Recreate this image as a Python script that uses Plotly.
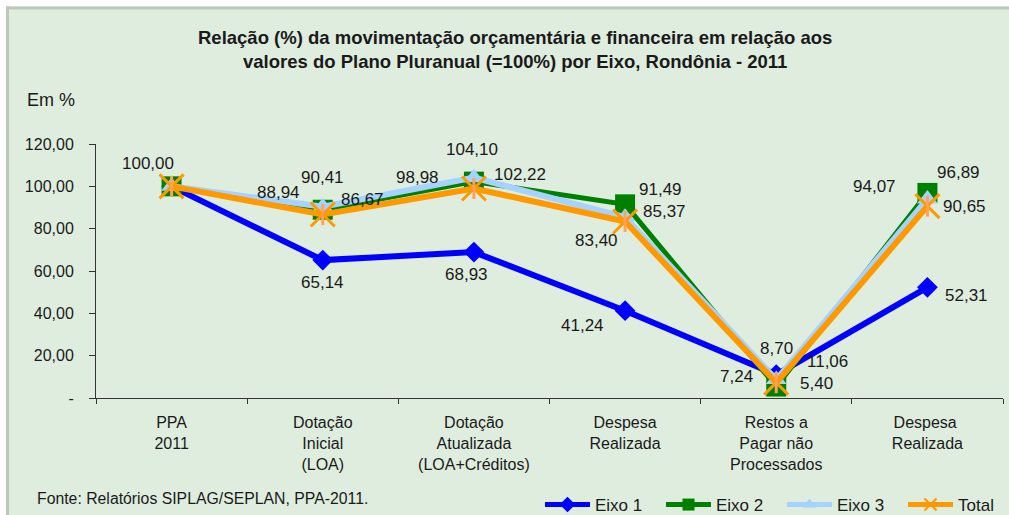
import plotly.graph_objects as go

categories = ["PPA<br>2011", "Dotação<br>Inicial<br>(LOA)", "Dotação<br>Atualizada<br>(LOA+Créditos)",
              "Despesa<br>Realizada", "Restos a<br>Pagar não<br>Processados", "Despesa <br>Realizada"]
eixo1 = [100.00, 65.14, 68.93, 41.24, 11.06, 52.31]
eixo2 = [100.00, 88.94, 102.22, 91.49, 5.40, 96.89]
eixo3 = [100.00, 90.41, 104.10, 85.37, 8.70, 94.07]
total = [100.00, 86.67, 98.98, 83.40, 7.24, 90.65]
y_ticks = [0, 20, 40, 60, 80, 100, 120]

# label pixel offsets (dx, dy down) per series, None = no label
off1 = [(-24, -23), (0, 22), (-7, 22), (-43, 15), (51, -13), (39, 8)]
off2 = [None, (-44, -17), (46, -7), (35, -15), (40, -3), (31, -20)]
off3 = [None, (0, -29), (-2, -28), (39, -6), (0, -31), (-53, -12)]
offT = [None, (40, -15), (-56, -11), (-29, 19), (-40, -6), (37, 0)]

FONT = "Liberation Sans, Arial, sans-serif"
TXT = "#1a1a1a"
BG = "#DFEDDF"
BORDER = "#BCC8BC"

def fmt(v):
    return f"{v:.2f}".replace(".", ",")

fig = go.Figure()
fig.add_trace(go.Scatter(x=categories, y=eixo1, name="Eixo 1", mode="lines+markers",
                         line=dict(color="#0000FF", width=6),
                         marker=dict(symbol="diamond", size=16, color="#0000FF")))
fig.add_trace(go.Scatter(x=categories, y=eixo2, name="Eixo 2", mode="lines+markers",
                         line=dict(color="#008000", width=5),
                         marker=dict(symbol="square", size=20, color="#008000")))
fig.add_trace(go.Scatter(x=categories, y=eixo3, name="Eixo 3", mode="lines+markers",
                         line=dict(color="#A6D2FF", width=6),
                         marker=dict(symbol="triangle-up", size=18, color="#A6D2FF")))
fig.add_trace(go.Scatter(x=categories, y=total, name="Total", mode="lines+markers",
                         line=dict(color="#FF9900", width=6),
                         marker=dict(symbol="x-thin-open", size=24,
                                     line=dict(color="#FF9900", width=3))))
fig.add_trace(go.Scatter(x=categories, y=total, name="Total", mode="markers", showlegend=False,
                         marker=dict(symbol="line-ns-open", size=15,
                                     line=dict(color="#FF9900", width=3))))

W, H = 1009, 515
L, T, PW, PH = 96, 144, 907, 254
def px_x(p):
    return (p - L) / PW
def px_y(p):
    return (T + PH - p) / PH

annotations = []
for vals, offs in [(eixo1, off1), (eixo2, off2), (eixo3, off3), (total, offT)]:
    for c, v, o in zip(categories, vals, offs):
        if o is None:
            continue
        annotations.append(dict(x=c, y=v, xref="x", yref="y", text=fmt(v), showarrow=False,
                                xshift=o[0], yshift=-o[1],
                                font=dict(family=FONT, size=17, color=TXT)))

annotations += [
    dict(x=px_x(515), y=px_y(49), xref="paper", yref="paper",
         text="<b>Relação (%) da movimentação orçamentária e financeira em relação aos<br>valores do Plano Pluranual (=100%) por Eixo, Rondônia - 2011</b>",
         showarrow=False, xanchor="center", yanchor="middle",
         font=dict(family=FONT, size=18.5, color=TXT)),
    dict(xref="paper", yref="paper", x=px_x(25), y=px_y(100), xanchor="left", yanchor="middle",
         text="Em %", showarrow=False, font=dict(family=FONT, size=18, color=TXT)),
    dict(xref="paper", yref="paper", x=px_x(35), y=px_y(498), xanchor="left", yanchor="middle",
         text="Fonte: Relatórios SIPLAG/SEPLAN, PPA-2011.", showarrow=False,
         font=dict(family=FONT, size=15.8, color=TXT)),
]

shapes = [
    dict(type="rect", xref="paper", yref="paper", layer="below",
         x0=px_x(0), x1=px_x(W + 20), y0=px_y(6.5), y1=px_y(-5),
         fillcolor="#FFFFFF", line=dict(width=0)),
    dict(type="rect", xref="paper", yref="paper", layer="below",
         x0=px_x(-5), x1=px_x(6), y0=px_y(H + 20), y1=px_y(0),
         fillcolor="#FFFFFF", line=dict(width=0)),
    dict(type="line", xref="paper", yref="paper", layer="below",
         x0=px_x(6), x1=px_x(W + 20), y0=px_y(8), y1=px_y(8),
         line=dict(color=BORDER, width=3)),
    dict(type="line", xref="paper", yref="paper", layer="below",
         x0=px_x(7.5), x1=px_x(7.5), y0=px_y(6.5), y1=px_y(H + 20),
         line=dict(color=BORDER, width=3)),
]

fig.update_layout(
    width=W, height=H,
    margin=dict(l=L, r=W - L - PW, t=T, b=H - T - PH),
    paper_bgcolor=BG,
    plot_bgcolor="rgba(0,0,0,0)",
    separators=",.",
    showlegend=True,
    legend=dict(orientation="h", xref="container", yref="container",
                x=540 / W, y=1 - 505 / H, xanchor="left", yanchor="middle",
                font=dict(family=FONT, size=17, color=TXT),
                bgcolor="rgba(0,0,0,0)", itemwidth=45, entrywidth=61,
                itemsizing="constant", tracegroupgap=0),
    font=dict(family=FONT, size=16, color=TXT),
    annotations=annotations,
    shapes=shapes,
)

fig.update_xaxes(type="category", range=[-0.5, len(categories) - 0.5],
                 showline=True, linecolor="#333333", linewidth=1,
                 ticks="outside", ticklen=5, tickcolor="#333333", tickson="boundaries",
                 showgrid=False, zeroline=False, ticklabelstandoff=10,
                 tickfont=dict(family=FONT, size=16, color=TXT))
fig.update_yaxes(range=[0, 120], showline=True, linecolor="#333333", linewidth=1,
                 ticks="outside", ticklen=6, tickcolor="#333333", showgrid=False, zeroline=False,
                 tickvals=y_ticks,
                 ticktext=[("-" if v == 0 else fmt(v)) for v in y_ticks],
                 ticklabelstandoff=12,
                 tickfont=dict(family=FONT, size=16, color=TXT))

fig.write_html("out.html", config={"displayModeBar": False},
               post_script=("document.documentElement.style.margin='0';"
                            "document.documentElement.style.overflow='hidden';"
                            "document.documentElement.style.background='" + BG + "';"
                            "document.body.style.margin='0';"
                            "document.body.style.overflow='hidden';"
                            "document.body.style.background='" + BG + "';"))
